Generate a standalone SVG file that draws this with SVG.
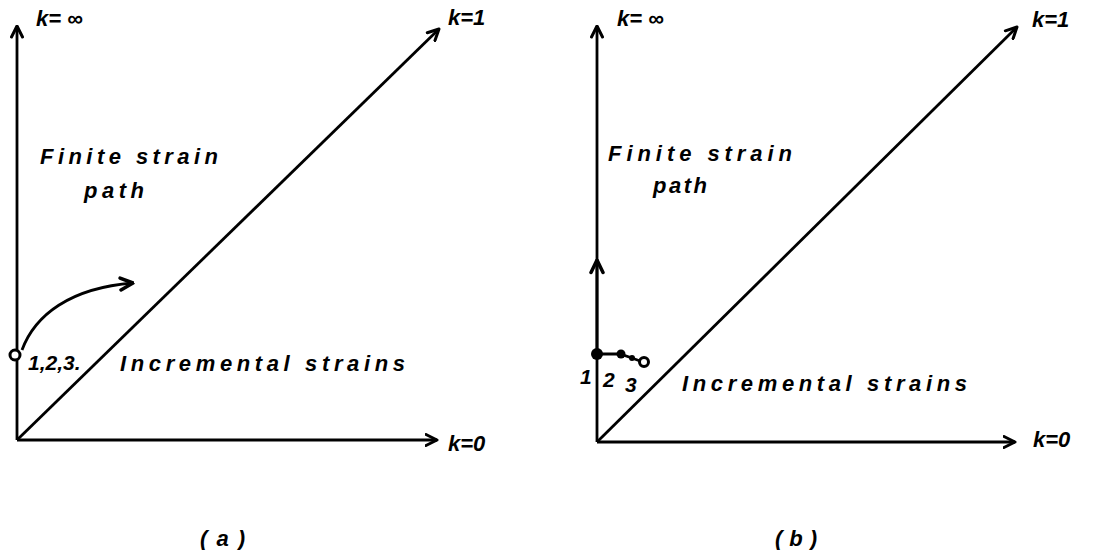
<svg xmlns="http://www.w3.org/2000/svg" width="1100" height="550" viewBox="0 0 1100 550">
<defs>
<marker id="ah" viewBox="0 0 14 14" refX="12.5" refY="7" markerWidth="14" markerHeight="14" markerUnits="userSpaceOnUse" orient="auto">
<path d="M1.5,1.5 L12.5,7 L1.5,12.5" fill="none" stroke="#000" stroke-width="3" stroke-linecap="round" stroke-linejoin="round"/>
</marker>
<marker id="ahb" viewBox="0 0 16 16" refX="14.5" refY="8" markerWidth="16" markerHeight="16" markerUnits="userSpaceOnUse" orient="auto">
<path d="M2,2 L14.5,8 L2,14" fill="none" stroke="#000" stroke-width="3.5" stroke-linecap="round" stroke-linejoin="round"/>
</marker>
</defs>
<style>
text{font-family:"Liberation Sans","DejaVu Sans",sans-serif;font-style:italic;font-weight:bold;fill:#000;font-size:22px}
.ax{stroke:#000;stroke-width:2.8;fill:none}
.lb{font-size:21px}
</style>
<rect width="1100" height="550" fill="#fff"/>
<g id="connectors">
<line class="ax" x1="17" y1="440" x2="17" y2="26" marker-end="url(#ah)"/>
<line class="ax" x1="17" y1="440" x2="437" y2="440" marker-end="url(#ah)"/>
<line class="ax" x1="17" y1="440" x2="439" y2="29" marker-end="url(#ah)"/>
<path class="ax" d="M22,350 C35,315 70,288 133,283" stroke-width="4.5" marker-end="url(#ahb)"/>
<line class="ax" x1="597" y1="442" x2="597" y2="26" marker-end="url(#ah)"/>
<line class="ax" x1="597" y1="355" x2="597" y2="260" stroke-width="4.5" marker-end="url(#ahb)"/>
<line class="ax" x1="597" y1="442" x2="1015" y2="442" marker-end="url(#ah)"/>
<line class="ax" x1="597" y1="442" x2="1017" y2="27" marker-end="url(#ah)"/>
<path class="ax" d="M597,354 L620,354 L632,358 L640,361" stroke-width="3.5"/>
</g>
<g id="panel-a-labels">
<text x="36" y="26">k= ∞</text>
<text x="448" y="25">k=1</text>
<text x="448" y="451">k=0</text>
<text x="40" y="164" textLength="178" lengthAdjust="spacing">Finite strain</text>
<text x="84" y="198" textLength="60" lengthAdjust="spacing">path</text>
<text x="28" y="370" class="lb">1,2,3.</text>
<text x="120" y="371" textLength="285" lengthAdjust="spacing">Incremental strains</text>
<text x="200" y="546" textLength="45" lengthAdjust="spacing">(a)</text>
</g>
<g id="point-a">
<circle cx="15" cy="355" r="5" fill="#fff" stroke="#000" stroke-width="3"/>
</g>
<g id="panel-b-labels">
<text x="617" y="26">k= ∞</text>
<text x="1032" y="27">k=1</text>
<text x="1033" y="447">k=0</text>
<text x="608" y="161" textLength="184" lengthAdjust="spacing">Finite strain</text>
<text x="653" y="193" textLength="54" lengthAdjust="spacing">path</text>
<text x="580" y="384" class="lb">1</text>
<text x="603" y="387" class="lb">2</text>
<text x="625" y="392" class="lb">3</text>
<text x="682" y="391" textLength="285" lengthAdjust="spacing">Incremental strains</text>
<text x="775" y="546" textLength="42" lengthAdjust="spacing">(b)</text>
</g>
<g id="points-b">
<circle cx="597" cy="354" r="6" fill="#000"/>
<circle cx="621" cy="354" r="4.5" fill="#000"/>
<circle cx="632" cy="358" r="3" fill="#000"/>
<circle cx="644" cy="362" r="4.5" fill="#fff" stroke="#000" stroke-width="3"/>
</g>
</svg>
